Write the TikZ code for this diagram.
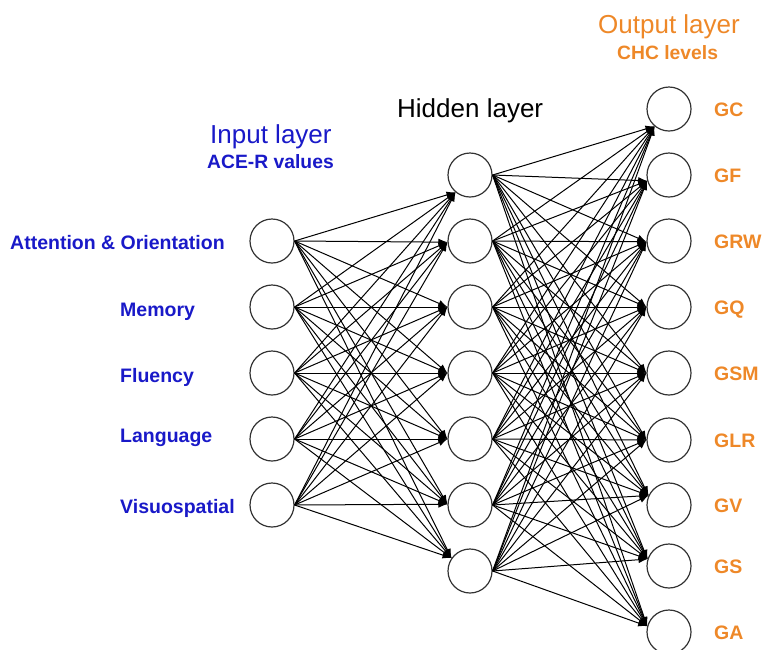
\documentclass[tikz,border=0pt]{standalone}
\usepackage{fontspec}
\setmainfont{Liberation Sans}
\usetikzlibrary{arrows.meta}
\definecolor{inblue}{RGB}{25,25,200}
\definecolor{outorange}{RGB}{238,136,40}
\begin{document}
\begin{tikzpicture}[x=1pt,y=-1pt,
  neuron/.style={circle,draw=black!80,line width=1.2pt,minimum size=44pt,inner sep=0pt},
  link/.style={line width=1pt,-{Latex[length=9pt,width=7pt]}},
  inlabel/.style={anchor=base west,inner sep=0pt,text=inblue,font=\fontsize{19.5}{20}\selectfont\bfseries},
  outlabel/.style={anchor=base west,inner sep=0pt,text=outorange,font=\fontsize{19.5}{20}\selectfont\bfseries},
  heading/.style={anchor=base west,inner sep=0pt,font=\fontsize{26}{27}\selectfont},
  subheading/.style={anchor=base west,inner sep=0pt,font=\fontsize{19.3}{20}\selectfont\bfseries}]
\useasboundingbox (0,0) rectangle (763,649);

% layer titles
\node[heading,text=inblue] (tin) at (210,143) {Input layer};
\node[subheading,text=inblue] (sin) at (207,168) {ACE-R values};
\node[heading,text=black] (thid) at (397,117) {Hidden layer};
\node[heading,text=outorange] (tout) at (598,33) {Output layer};
\node[subheading,text=outorange] (sout) at (617,59) {CHC levels};

% input neurons
\foreach \y [count=\k] in {241,307,373,439,505}
  \node[neuron] (i\k) at (272,\y) {};
% hidden neurons, with the border angle where incoming arrows land
\foreach \y/\ang [count=\k] in {175/230,241/183,307/180,373/180,439/180,505/178,571/145}{
  \node[neuron] (h\k) at (470,\y) {};
  \coordinate (hin\k) at (h\k.\ang);
}
% output neurons, with the border angle where incoming arrows land
\foreach \y/\ang [count=\k] in {109/230,175/195,241/182,307/180,373/180,440/180,505/155,566/162,632/165}{
  \node[neuron] (o\k) at (669,\y) {};
  \coordinate (oin\k) at (o\k.\ang);
}

% input labels
\node[inlabel] (l1) at (10,249) {Attention \& Orientation};
\node[inlabel] (l2) at (120,316) {Memory};
\node[inlabel] (l3) at (120,382) {Fluency};
\node[inlabel] (l4) at (120,442) {Language};
\node[inlabel] (l5) at (120,513) {Visuospatial};

% output labels
\foreach \t [count=\k] in {GC,GF,GRW,GQ,GSM,GLR,GV,GS,GA}
  \node[outlabel] (n\k) at ([yshift=-7pt]o\k.center -| 714,0) {\t};

% fully connected weights
\foreach \a in {1,...,5}
  \foreach \b in {1,...,7}
    \draw[link] (i\a.east) -- (hin\b);
\foreach \a in {1,...,7}
  \foreach \b in {1,...,9}
    \draw[link] (h\a.east) -- (oin\b);
\end{tikzpicture}
\end{document}
